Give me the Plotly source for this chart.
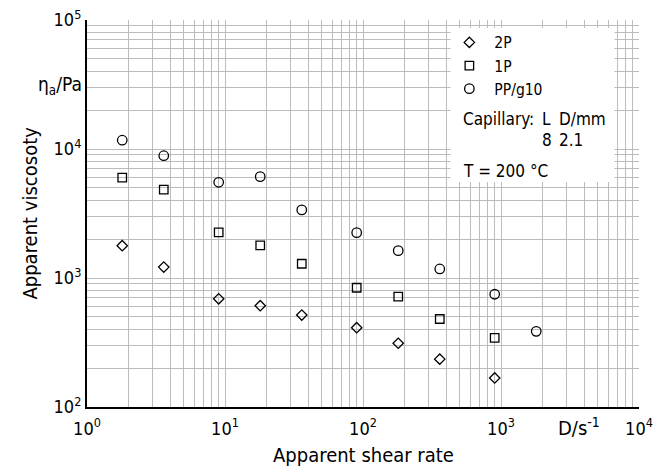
import plotly.graph_objects as go

# Capillary rheometry: apparent viscosity vs. apparent shear rate, T = 200 °C
shear_rate = [1.8, 3.6, 9, 18, 36, 90, 180, 360, 900, 1800]

visc_2p = [1780, 1215, 690, 610, 516, 412, 312, 235, 168]
visc_1p = [6000, 4840, 2260, 1790, 1290, 840, 716, 481, 343]
visc_pp_g10 = [11700, 8870, 5520, 6100, 3370, 2245, 1630, 1175, 748, 386]

x_tick_vals = [1, 10, 100, 1000, 10000]
x_tick_text = ["10<sup>0</sup>", "10<sup>1</sup>", "10<sup>2</sup>", "10<sup>3</sup>", "10<sup>4</sup>"]
y_tick_vals = [100, 1000, 10000, 100000]
y_tick_text = ["10<sup>2</sup>", "10<sup>3</sup>", "10<sup>4</sup>", "10<sup>5</sup>"]

FONT = "Liberation Sans Narrow, DejaVu Sans Condensed, Roboto, sans-serif"
GRID = "#bcbcbc"

def minor_vals(lo_exp, hi_exp):
    return [m * 10 ** e for e in range(lo_exp, hi_exp) for m in range(2, 10)]

fig = go.Figure()

series = [
    ("2P", visc_2p, "diamond-open", 8),
    ("1P", visc_1p, "square-open", 8.5),
    ("PP/g10", visc_pp_g10, "circle-open", 9.5),
]
for name, vals, sym, size in series:
    fig.add_trace(go.Scatter(
        x=shear_rate[:len(vals)], y=vals, mode="markers", name=name,
        marker=dict(symbol=sym, size=size, color="black", line=dict(width=1.3, color="black")),
    ))

axis_common = dict(
    type="log", showgrid=True, gridcolor=GRID, gridwidth=1,
    showline=True, linecolor="black", linewidth=2, ticks="",
    tickfont=dict(family=FONT, size=18, color="black"),
    zeroline=False, automargin=False,
)

fig.update_xaxes(
    **axis_common, range=[0, 4], tickvals=x_tick_vals, ticktext=x_tick_text,
    ticklabelstandoff=4,
    minor=dict(tickvals=minor_vals(0, 4), showgrid=True, gridcolor=GRID, gridwidth=1, ticks=""),
)
fig.update_yaxes(
    **axis_common, range=[2, 5], tickvals=y_tick_vals, ticktext=y_tick_text,
    minor=dict(tickvals=minor_vals(2, 5), showgrid=True, gridcolor=GRID, gridwidth=1, ticks=""),
)

# white panel behind the legend and test conditions
fig.add_shape(type="rect", xref="paper", yref="paper", x0=0.6585, x1=0.9556, y0=0.5814, y1=0.9793,
              fillcolor="white", line=dict(width=0), layer="above")

# axis titles
fig.add_annotation(text="Apparent shear rate", xref="paper", yref="paper", x=0.5, y=-0.124,
                   xanchor="center", yanchor="middle", showarrow=False,
                   font=dict(family=FONT, size=20, color="black"))
fig.add_annotation(text="Apparent viscosoty", xref="paper", yref="paper", x=-0.105, y=0.5,
                   xanchor="center", yanchor="middle", textangle=-90, showarrow=False,
                   font=dict(family=FONT, size=20, color="black"))

notes = [
    ("η<sub>a</sub>/Pa", -0.006, 0.832, "right", 19),
    ("D/s<sup>-1</sup>", 0.891, -0.052, "center", 20),
    ("Capillary:", 0.677, 0.743, "left", 17),
    ("L", 0.821, 0.743, "left", 17),
    ("D/mm", 0.852, 0.743, "left", 17),
    ("8", 0.821, 0.689, "left", 17),
    ("2.1", 0.852, 0.689, "left", 17),
    ("T = 200 °C", 0.677, 0.611, "left", 17),
]
for text, x, y, anchor, size in notes:
    fig.add_annotation(text=text, xref="paper", yref="paper", x=x, y=y, xanchor=anchor,
                       yanchor="middle", showarrow=False,
                       font=dict(family=FONT, size=size, color="black"))

fig.update_layout(
    width=660, height=471,
    margin=dict(l=87, r=21, t=20, b=64),
    paper_bgcolor="white", plot_bgcolor="white",
    font=dict(family=FONT, size=17, color="black"),
    legend=dict(x=0.6474, y=0.985, xanchor="left", yanchor="top", bgcolor="rgba(0,0,0,0)",
                font=dict(family=FONT, size=15.5, color="black"), itemwidth=40),
    showlegend=True,
)

fig.write_html("out.html")
